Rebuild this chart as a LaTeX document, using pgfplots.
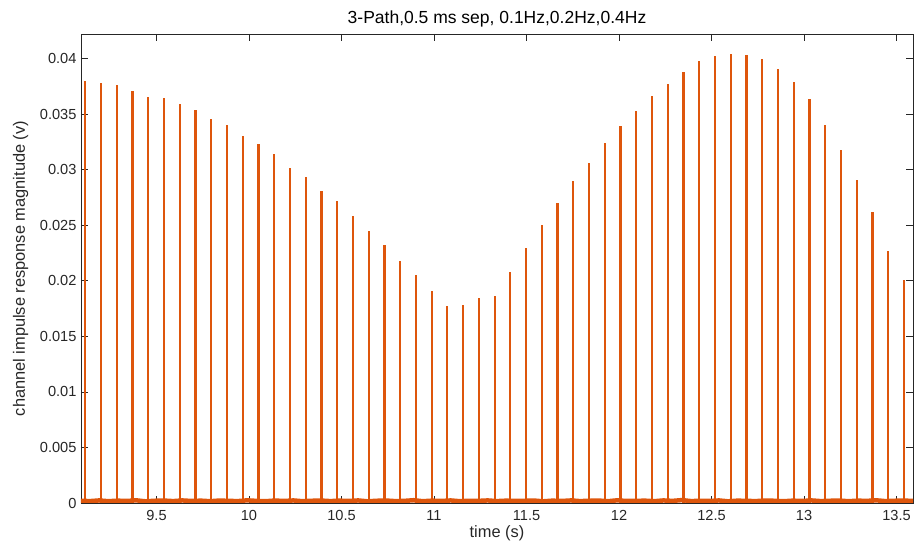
\documentclass[border=0pt]{standalone}
\usepackage{fontspec}
\setmainfont{Liberation Sans}
\usepackage{pgfplots}
\pgfplotsset{compat=1.18}
\definecolor{spk}{HTML}{DE560C}
\definecolor{axgray}{HTML}{262626}

% impulse times (s), main path peak and weaker path peak (v)
\pgfplotstableread{
t h h2
9.1150 0.03796 0.0083
9.2001 0.03778 0.0110
9.2852 0.03763 0.0062
9.3703 0.03709 0.0179
9.4554 0.03649 0.0195
9.5405 0.03640 0.0081
9.6256 0.03592 0.0087
9.7107 0.03532 0.0145
9.7958 0.03453 0.0120
9.8809 0.03399 0.0105
9.9660 0.03303 0.0110
10.0511 0.03228 0.0230
10.1362 0.03141 0.0140
10.2213 0.03012 0.0126
10.3064 0.02931 0.0150
10.3915 0.02808 0.0146
10.4766 0.02715 0.0125
10.5617 0.02586 0.0150
10.6468 0.02447 0.0152
10.7319 0.02321 0.0095
10.8170 0.02174 0.0166
10.9021 0.02054 0.0169
10.9872 0.01904 0.0171
11.0723 0.01775 0.0150
11.1574 0.01784 0.0162
11.2425 0.01841 0.0162
11.3276 0.01862 0.0165
11.4127 0.02081 0.0192
11.4978 0.02291 0.0195
11.5829 0.02502 0.0196
11.6680 0.02700 0.0199
11.7531 0.02895 0.0203
11.8382 0.03060 0.0204
11.9233 0.03237 0.0204
12.0084 0.03396 0.0210
12.0935 0.03523 0.0210
12.1786 0.03661 0.0212
12.2637 0.03771 0.0212
12.3488 0.03880 0.0213
12.4339 0.03973 0.0214
12.5190 0.04018 0.0213
12.6041 0.04036 0.0212
12.6892 0.04030 0.0212
12.7743 0.03991 0.0212
12.8594 0.03901 0.0212
12.9445 0.03790 0.0210
13.0296 0.03631 0.0211
13.1147 0.03402 0.0210
13.1998 0.03180 0.0209
13.2849 0.02907 0.0208
13.3700 0.02622 0.0207
13.4551 0.02267 0.0205
13.5402 0.02009 0.0160
}\impulses

% noise floor between impulses
\pgfplotstableread{
t h
9.09 0.00020
9.14 0.00017
9.19 0.00023
9.24 0.00016
9.29 0.00021
9.34 0.00018
9.39 0.00024
9.44 0.00015
9.49 0.00020
9.54 0.00022
9.59 0.00017
9.64 0.00023
9.69 0.00018
9.74 0.00021
9.79 0.00016
9.84 0.00022
9.89 0.00019
9.94 0.00017
9.99 0.00024
10.04 0.00019
10.09 0.00016
10.14 0.00022
10.19 0.00018
10.24 0.00023
10.29 0.00016
10.34 0.00020
10.39 0.00022
10.44 0.00017
10.49 0.00021
10.54 0.00018
10.59 0.00023
10.64 0.00015
10.69 0.00020
10.74 0.00022
10.79 0.00017
10.84 0.00019
10.89 0.00025
10.94 0.00016
10.99 0.00021
11.04 0.00018
11.09 0.00023
11.14 0.00016
11.19 0.00020
11.24 0.00019
11.29 0.00023
11.34 0.00017
11.39 0.00021
11.44 0.00018
11.49 0.00020
11.54 0.00022
11.59 0.00015
11.64 0.00021
11.69 0.00018
11.74 0.00023
11.79 0.00017
11.84 0.00020
11.89 0.00022
11.94 0.00016
11.99 0.00024
12.04 0.00018
12.09 0.00019
12.14 0.00021
12.19 0.00016
12.24 0.00023
12.29 0.00019
12.34 0.00026
12.39 0.00017
12.44 0.00020
12.49 0.00018
12.54 0.00023
12.59 0.00015
12.64 0.00021
12.69 0.00019
12.74 0.00017
12.79 0.00022
12.84 0.00020
12.89 0.00016
12.94 0.00021
12.99 0.00018
13.04 0.00023
13.09 0.00017
13.14 0.00020
13.19 0.00022
13.24 0.00016
13.29 0.00021
13.34 0.00019
13.39 0.00024
13.44 0.00017
13.49 0.00020
13.54 0.00022
13.59 0.00018
}\noisefloor

\begin{document}
\begin{tikzpicture}
\begin{axis}[
  at={(0,0)}, anchor=south west,
  scale only axis,
  width=832pt, height=469pt,
  xmin=9.092, xmax=13.589,
  ymin=0, ymax=0.0422,
  xtick={9.5,10,...,13.5},
  ytick={0,0.005,...,0.0401},
  scaled x ticks=false, scaled y ticks=false,
  xticklabel style={/pgf/number format/fixed, /pgf/number format/precision=1, yshift=-3.5pt},
  yticklabel style={/pgf/number format/fixed, /pgf/number format/precision=3, xshift=-1pt},
  /pgf/number format/assume math mode=true,
  tick label style={font=\fontsize{14.6}{16}\selectfont, color=axgray},
  tick align=inside,
  major tick length=7pt,
  tick style={color=axgray, line width=0.6pt},
  axis line style={color=axgray, line width=0.8pt},
  title={3-Path,0.5 ms sep, 0.1Hz,0.2Hz,0.4Hz},
  title style={at={(axis description cs:0.5,1)}, anchor=base, yshift=4pt, font=\fontsize{17.5}{20}\selectfont, color=black},
  xlabel={time (s)},
  xlabel style={at={(axis description cs:0.5,0)}, anchor=base, yshift=-35pt, font=\fontsize{16.4}{18}\selectfont, color=axgray},
  ylabel={channel impulse response magnitude (v)},
  ylabel style={at={(axis description cs:-0.0673,0.5)}, anchor=base, rotate=0, font=\fontsize{16.4}{18}\selectfont, color=axgray},
]
\addplot[spk, line width=4.5pt] table[x=t, y=h] {\noisefloor};
\addplot[ycomb, spk, line width=2.2pt] table[x=t, y=h] {\impulses};
\addplot[ycomb, spk, line width=2.2pt] table[x=t, y=h2] {\impulses};
\end{axis}
\pgfresetboundingbox
\path[use as bounding box] (-81pt,-45pt) rectangle (834pt,503pt);
\end{tikzpicture}
\end{document}
